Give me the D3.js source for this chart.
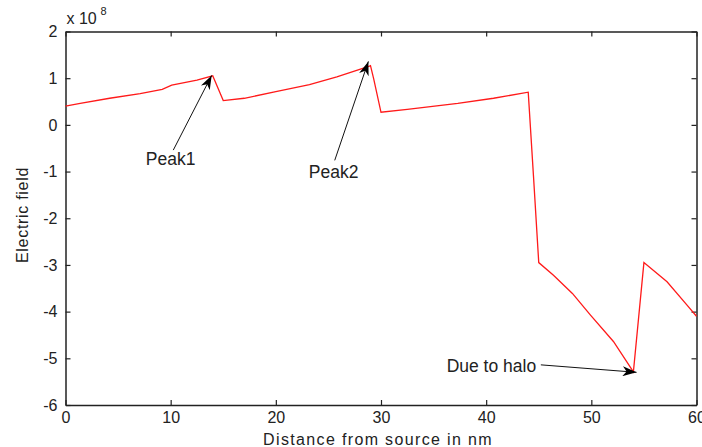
<!DOCTYPE html>
<html>
<head>
<meta charset="utf-8">
<script src="https://cdn.jsdelivr.net/npm/d3@7"></script>
<style>
  body { margin: 0; background: #fff; }
  text { font-family: Arial, "Liberation Sans", sans-serif; fill: #222; }
</style>
</head>
<body>
<svg id="chart" width="702" height="447"></svg>
<script>
// distance (nm) and electric field (x 1e8)
var distance = [0, 1.4, 4.2, 7.1, 9.2, 10.1, 12.5, 14, 15, 17, 20, 23.2, 25.8, 28.7, 29, 29.3, 30, 32.5, 37.3, 40.7, 44, 44.5, 45, 46.4, 48.2, 49.9, 52.1, 54, 55, 57.2, 59.1, 60];
var field = [0.40, 0.46, 0.57, 0.67, 0.76, 0.85, 0.96, 1.05, 0.52, 0.57, 0.71, 0.86, 1.03, 1.24, 1.27, 0.99, 0.27, 0.33, 0.46, 0.57, 0.70, -1.1, -2.95, -3.22, -3.61, -4.07, -4.64, -5.29, -2.95, -3.36, -3.86, -4.10];

var xTicks = [0, 10, 20, 30, 40, 50, 60];
var yTicks = [-6, -5, -4, -3, -2, -1, 0, 1, 2];

// annotations: label, label centre, arrow tail, arrow head (data units)
var notes = [
    {label: "Peak1", tx: 10.0, ty: -0.72, x1: 10.25, y1: -0.54, x2: 13.9, y2: 1.06},
    {label: "Peak2", tx: 25.5, ty: -1.0, x1: 25.6, y1: -0.76, x2: 28.8, y2: 1.36},
    {label: "Due to halo", tx: 40.5, ty: -5.17, x1: 45.2, y1: -5.14, x2: 54.3, y2: -5.3}
];

var svg = d3.select("#chart");
var mLeft = 65.5, mRight = 696.5, mTop = 31.5, mBottom = 405;

var x = d3.scaleLinear().domain([0, 60]).range([mLeft, mRight]);
var y = d3.scaleLinear().domain([-6, 2]).range([mBottom, mTop]);

// ticks inside the box, MATLAB style
var g = svg.append("g");
g.append("g").attr("transform", "translate(0," + mBottom + ")")
    .call(d3.axisBottom(x).tickValues(xTicks).tickSizeInner(-5).tickSizeOuter(0).tickPadding(7)
        .tickFormat(function (d) { return String(d); }));
g.append("g").attr("transform", "translate(0," + mTop + ")")
    .call(d3.axisTop(x).tickValues(xTicks).tickSizeInner(-5).tickSizeOuter(0).tickFormat(""));
g.append("g").attr("transform", "translate(" + mLeft + ",0)")
    .call(d3.axisLeft(y).tickValues(yTicks).tickSizeInner(-5).tickSizeOuter(0).tickPadding(8)
        .tickFormat(function (d) { return String(d); }));
g.append("g").attr("transform", "translate(" + mRight + ",0)")
    .call(d3.axisRight(y).tickValues(yTicks).tickSizeInner(-5).tickSizeOuter(0).tickFormat(""));

g.selectAll(".domain").attr("stroke", "#222").attr("stroke-width", 1.5);
g.selectAll(".tick line").attr("stroke", "#222").attr("stroke-width", 1.2);
g.selectAll(".tick text").attr("font-size", 16).attr("fill", "#222")
    .style("font-family", "Arial, 'Liberation Sans', sans-serif");

svg.append("text").attr("x", mLeft + 1).attr("y", 24).attr("font-size", 16).text("x 10");
svg.append("text").attr("x", mLeft + 35).attr("y", 15).attr("font-size", 11).text("8");

// the curve
var line = d3.line().x(function (d) { return x(d[0]); }).y(function (d) { return y(d[1]); });
svg.append("path")
    .datum(d3.zip(distance, field))
    .attr("d", line)
    .attr("fill", "none")
    .attr("stroke", "#ff1a1a")
    .attr("stroke-width", 1.3);

// arrows
svg.append("defs").append("marker")
    .attr("id", "head")
    .attr("viewBox", "0 0 14 10")
    .attr("refX", 14).attr("refY", 5)
    .attr("markerWidth", 14).attr("markerHeight", 10)
    .attr("markerUnits", "userSpaceOnUse")
    .attr("orient", "auto")
    .append("path").attr("d", "M0,0 L14,5 L0,10 L4,5 Z").attr("fill", "#000");

svg.selectAll(".arrow")
    .data(notes)
    .enter()
    .append("line")
    .attr("class", "arrow")
    .attr("x1", function (d) { return x(d.x1); })
    .attr("y1", function (d) { return y(d.y1); })
    .attr("x2", function (d) { return x(d.x2); })
    .attr("y2", function (d) { return y(d.y2); })
    .attr("stroke", "#111")
    .attr("stroke-width", 1)
    .attr("marker-end", "url(#head)");

svg.selectAll(".note")
    .data(notes)
    .enter()
    .append("text")
    .attr("class", "note")
    .attr("x", function (d) { return x(d.tx); })
    .attr("y", function (d) { return y(d.ty); })
    .attr("text-anchor", "middle")
    .attr("dy", "0.35em")
    .attr("font-size", 17.5)
    .text(function (d) { return d.label; });

// axis labels
svg.append("text").attr("x", 378).attr("y", 445)
    .attr("text-anchor", "middle").attr("font-size", 16).attr("letter-spacing", 1.35)
    .text("Distance from source in nm");
svg.append("text").attr("transform", "translate(28,215) rotate(-90)")
    .attr("text-anchor", "middle").attr("font-size", 16).attr("letter-spacing", 0.7)
    .text("Electric field");
</script>
</body>
</html>
